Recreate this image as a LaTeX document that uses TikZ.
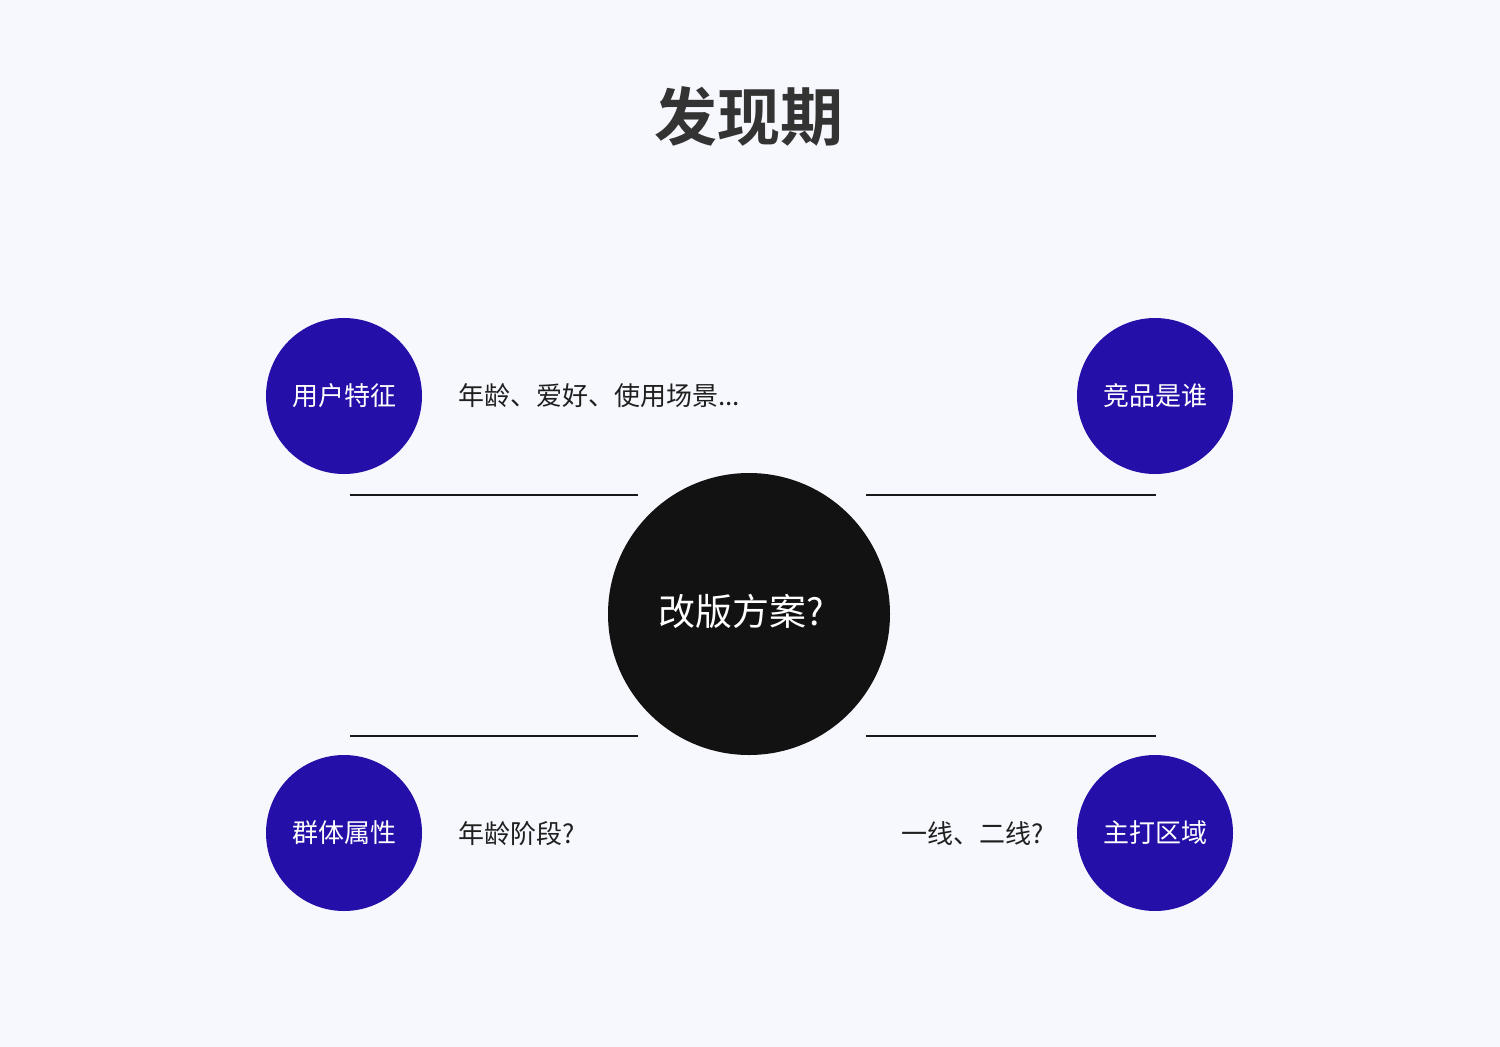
\documentclass[tikz,border=0pt]{standalone}
\usepackage{fontspec}
\setmainfont{Noto Sans CJK SC}
\newfontfamily\cjkbold{Noto Sans CJK SC Bold}
\definecolor{bgc}{HTML}{F7F8FD}
\definecolor{bluec}{HTML}{2410A8}
\definecolor{darkc}{HTML}{121212}
\definecolor{titlec}{HTML}{333333}
\begin{document}
\begin{tikzpicture}[x=1pt,y=-1pt,
  topic/.style={circle,fill=bluec,minimum size=156pt,inner sep=0pt,text=white,font=\fontsize{26}{30}\selectfont},
  hub/.style={circle,fill=darkc,minimum size=282pt,inner sep=0pt,text=white,font=\fontsize{37}{42}\selectfont},
  hublabel/.style={inner sep=0pt,text=white,font=\fontsize{37}{42}\selectfont},
  note/.style={inner sep=0pt,text=black!88,font=\fontsize{26}{30}\selectfont},
  rule/.style={line width=2pt,draw=black!90}]
\fill[bgc] (0,0) rectangle (1500,1047);
\useasboundingbox (0,0) rectangle (1500,1047);
\node[text=titlec,font=\cjkbold\fontsize{63}{70}\selectfont] (title) at (749,116) {发现期};
\node[hub] (hub) at (749,614) {};
\node[hublabel] (hubtext) at (741,611) {改版方案?};
\node[topic] (a) at (344,396) {用户特征};
\node[topic] (b) at (1155,396) {竞品是谁};
\node[topic] (c) at (344,833) {群体属性};
\node[topic] (d) at (1155,833) {主打区域};
\node[note,anchor=west] (na) at (458,396) {年龄、爱好、使用场景...};
\node[note,anchor=west] (nc) at (458,834) {年龄阶段?};
\node[note,anchor=east] (nd) at (1044,834) {一线、二线?};
\coordinate (l1a) at (350,495); \coordinate (l1b) at (638,495);
\coordinate (l2a) at (866,495); \coordinate (l2b) at (1156,495);
\coordinate (l3a) at (350,736); \coordinate (l3b) at (638,736);
\coordinate (l4a) at (866,736); \coordinate (l4b) at (1156,736);
\draw[rule] (l1a) -- (l1b);
\draw[rule] (l2a) -- (l2b);
\draw[rule] (l3a) -- (l3b);
\draw[rule] (l4a) -- (l4b);
\end{tikzpicture}
\end{document}
